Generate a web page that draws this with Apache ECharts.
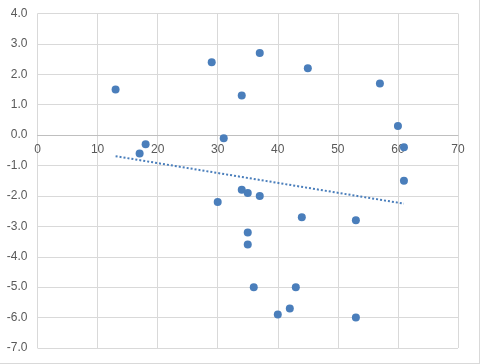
<!DOCTYPE html>
<html><head><meta charset="utf-8">
<script src="https://cdn.jsdelivr.net/npm/echarts@6/dist/echarts.min.js"></script>
<style>
html,body{margin:0;padding:0;background:#fff;}
#c{width:479px;height:363px;border-right:1px solid #d9d9d9;border-bottom:1px solid #d9d9d9;}
</style></head>
<body><div id="c"></div>
<script>
const xValues = [13,17,18,29,31,34,37,45,57,60,61,61,34,35,37,30,44,53,35,35,36,43,42,40,53];
const yValues = [1.5,-0.6,-0.3,2.4,-0.1,1.3,2.7,2.2,1.7,0.3,-0.4,-1.5,-1.8,-1.9,-2.0,-2.2,-2.7,-2.8,-3.2,-3.6,-5.0,-5.0,-5.7,-5.9,-6.0];
const xTicks = [0,10,20,30,40,50,60,70];
const yTicks = [-7,-6,-5,-4,-3,-2,-1,0,1,2,3,4];

const pts = xValues.map((x,i)=>[x,yValues[i]]);
// linear trendline (least squares) over data range
const n = xValues.length;
const mx = xValues.reduce((a,b)=>a+b,0)/n;
const my = yValues.reduce((a,b)=>a+b,0)/n;
let sxy=0,sxx=0;
for(let i=0;i<n;i++){sxy+=(xValues[i]-mx)*(yValues[i]-my);sxx+=(xValues[i]-mx)**2;}
const slope=sxy/sxx, icpt=my-slope*mx;
const xmin=Math.min(...xValues), xmax=Math.max(...xValues);
const trend=[[xmin,icpt+slope*xmin],[xmax,icpt+slope*xmax]];

const chart = echarts.init(document.getElementById('c'));
const font = {color:'#595959',fontSize:12,fontFamily:'Liberation Sans, Arial, sans-serif'};
const gridBottom = 15;
chart.setOption({
  animation:false,
  grid:{left:37.5,right:21,top:13.5,bottom:gridBottom,containLabel:false,outerBoundsMode:'none'},
  xAxis:{type:'value',min:xTicks[0],max:xTicks[xTicks.length-1],interval:10,
    axisLine:{show:true,onZero:false,lineStyle:{color:'#bfbfbf',width:1}},
    axisTick:{show:false},
    axisLabel:Object.assign({margin:9},font),
    splitLine:{show:true,lineStyle:{color:'#d9d9d9',width:1}}},
  yAxis:{type:'value',min:yTicks[0],max:yTicks[yTicks.length-1],interval:1,
    axisLine:{show:false},axisTick:{show:false},
    axisLabel:Object.assign({margin:10,formatter:v=>v.toFixed(1)},font),
    splitLine:{show:true,lineStyle:{color:'#d9d9d9',width:1}}},
  series:[
    {type:'scatter',data:pts,symbolSize:8,itemStyle:{color:'#4a7ebb',opacity:1},z:3},
    {type:'line',data:trend,showSymbol:false,symbol:'none',
     lineStyle:{color:'#4a7ebb',width:2,type:[2,2]},z:2}
  ]
});
// place the x axis (line + labels) where y = 0, as the reference does
const y0 = chart.convertToPixel({yAxisIndex:0}, 0);
const yBottom = chart.convertToPixel({yAxisIndex:0}, yTicks[0]);
chart.setOption({xAxis:{offset:-(yBottom - y0)}});
</script></body></html>
